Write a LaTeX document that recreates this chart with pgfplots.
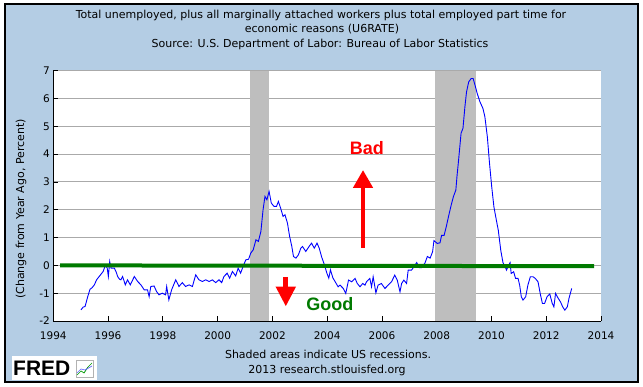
\documentclass[border=0pt]{standalone}
\usepackage{fontspec}
\setmainfont{DejaVu Sans}
\newfontfamily\arialf{Liberation Sans}
\usepackage{pgfplots}
\pgfplotsset{compat=1.18}
\usetikzlibrary{arrows.meta}
\definecolor{fredbg}{RGB}{180,205,228}
\definecolor{recess}{RGB}{190,190,190}
\definecolor{gridc}{RGB}{170,170,170}
\definecolor{goodgreen}{RGB}{0,122,0}
\begin{document}
\begin{tikzpicture}
\fill[white] (0pt,0pt) rectangle (643pt,387pt);
\filldraw[fill=fredbg, draw=black, line width=1.2pt] (5pt,5pt) rectangle (638pt,383pt);
% titles
\node[font=\fontsize{11}{12}\selectfont] at (321pt,372pt) {Total unemployed, plus all marginally attached workers plus total employed part time for};
\node[font=\fontsize{11}{12}\selectfont] at (322pt,358pt) {economic reasons (U6RATE)};
\node[font=\fontsize{11}{12}\selectfont] at (320pt,343pt) {Source: U.S. Department of Labor: Bureau of Labor Statistics};
\node[rotate=90, font=\fontsize{11}{12}\selectfont] at (21pt,178pt) {(Change from Year Ago, Percent)};
\node[font=\fontsize{11}{12}\selectfont] at (328pt,33pt) {Shaded areas indicate US recessions.};
\node[font=\fontsize{11}{12}\selectfont] at (327pt,17pt) {2013 research.stlouisfed.org};
% FRED logo
\fill[white] (12pt,7pt) rectangle (97pt,31pt);
\node[anchor=west, font=\arialf\bfseries\fontsize{21}{21}\selectfont, inner sep=0pt] at (13pt,19pt) {FRED};
\draw[gray!60, line width=0.4pt] (76pt,10pt) rectangle (93pt,27pt);
\draw[green!60!black, line width=0.7pt] (77pt,12pt) -- (81pt,16pt) -- (84pt,14pt) -- (88pt,20pt) -- (92pt,24pt);
\draw[blue!60, line width=0.7pt] (77pt,14pt) -- (81pt,18pt) -- (85pt,17pt) -- (92pt,21pt);
\begin{axis}[
  at={(53.3pt,66pt)}, anchor=south west,
  scale only axis, width=547.7pt, height=250.3pt,
  xmin=1994, xmax=2014, ymin=-2, ymax=7,
  xtick={1994,1996,...,2014}, ytick={-2,-1,...,7},
  axis lines*=left,
  axis line style={black, line width=0.8pt},
  tick align=inside, major tick length=5pt,
  tick style={black, line width=0.8pt},
  ymajorgrids, grid style={gridc, line width=0.9pt},
  axis background/.style={fill=white},
  clip=false,
  /pgf/number format/1000 sep={},
  /pgf/number format/assume math mode=true,
  tick label style={font=\fontsize{10.5}{11}\selectfont},
  xticklabel style={yshift=-7pt},
]
\fill[recess] (axis cs:2001.17,-2) rectangle (axis cs:2001.87,7);
\fill[recess] (axis cs:2007.92,-2) rectangle (axis cs:2009.42,7);
\addplot[blue, line width=0.9pt, mark=none] coordinates {
(1995.01,-1.60) (1995.09,-1.50) (1995.16,-1.48) (1995.25,-1.15) (1995.34,-0.86) (1995.42,-0.80)
(1995.50,-0.70) (1995.58,-0.52) (1995.66,-0.42) (1995.74,-0.32) (1995.82,-0.22) (1995.90,0.0)
(1995.97,-0.10) (1996.01,-0.40) (1996.06,0.14) (1996.11,-0.10) (1996.23,-0.10) (1996.30,-0.25)
(1996.35,-0.40) (1996.42,-0.50) (1996.47,-0.52) (1996.53,-0.40) (1996.63,-0.70) (1996.71,-0.52)
(1996.81,-0.70) (1996.96,-0.40) (1997.08,-0.58) (1997.20,-0.70) (1997.32,-0.88) (1997.44,-0.88)
(1997.50,-1.12) (1997.56,-0.76) (1997.68,-0.74) (1997.77,-0.94) (1997.86,-1.06) (1997.98,-1.00)
(1998.10,-1.06) (1998.14,-0.76) (1998.22,-1.24) (1998.32,-0.88) (1998.47,-0.52) (1998.59,-0.76)
(1998.71,-0.62) (1998.83,-0.76) (1998.96,-0.70) (1999.08,-0.76) (1999.20,-0.34) (1999.32,-0.52)
(1999.44,-0.58) (1999.57,-0.52) (1999.69,-0.58) (1999.81,-0.52) (1999.93,-0.62) (2000.05,-0.52)
(2000.15,-0.62) (2000.23,-0.40) (2000.35,-0.28) (2000.44,-0.46) (2000.54,-0.22) (2000.66,-0.38)
(2000.75,-0.10) (2000.84,-0.28) (2000.93,-0.04) (2001.03,0.20) (2001.13,0.22) (2001.21,0.44)
(2001.30,0.56) (2001.40,0.92) (2001.49,0.86) (2001.58,1.22) (2001.66,2.00) (2001.73,2.48)
(2001.80,2.36) (2001.88,2.66) (2001.96,2.24) (2002.06,2.12) (2002.15,2.12) (2002.22,2.30)
(2002.30,2.06) (2002.39,1.76) (2002.46,1.82) (2002.55,1.52) (2002.63,1.04) (2002.71,0.68)
(2002.77,0.32) (2002.86,0.26) (2002.95,0.38) (2003.04,0.62) (2003.10,0.68) (2003.22,0.50)
(2003.34,0.68) (2003.43,0.80) (2003.53,0.62) (2003.63,0.80) (2003.71,0.62) (2003.80,0.30)
(2003.90,0.02) (2003.99,-0.28) (2004.06,-0.46) (2004.12,-0.16) (2004.21,-0.45) (2004.30,-0.60)
(2004.40,-0.77) (2004.47,-0.71) (2004.59,-0.83) (2004.68,-1.01) (2004.78,-0.53) (2004.90,-0.59)
(2005.02,-0.47) (2005.10,-0.65) (2005.20,-0.77) (2005.30,-0.65) (2005.38,-0.71) (2005.44,-0.59)
(2005.56,-0.47) (2005.62,-0.77) (2005.68,-0.41) (2005.78,-0.99) (2005.86,-0.71) (2005.98,-0.65)
(2006.11,-0.83) (2006.23,-0.71) (2006.35,-0.59) (2006.47,-0.35) (2006.56,-0.53) (2006.66,-0.95)
(2006.72,-0.65) (2006.80,-0.53) (2006.90,-0.65) (2006.96,-0.17) (2007.08,-0.17) (2007.17,-0.05)
(2007.27,0.10) (2007.37,-0.08) (2007.45,-0.08) (2007.57,0.08) (2007.66,0.32) (2007.76,0.26)
(2007.85,0.49) (2007.90,0.89) (2008.02,0.79) (2008.12,0.81) (2008.18,1.08) (2008.27,1.08)
(2008.35,1.39) (2008.43,1.75) (2008.53,2.17) (2008.61,2.47) (2008.70,2.71) (2008.74,3.19)
(2008.80,3.79) (2008.89,4.75) (2008.96,4.93) (2009.03,5.70) (2009.09,6.24) (2009.17,6.60)
(2009.26,6.72) (2009.33,6.72) (2009.40,6.48) (2009.48,6.18) (2009.58,5.88) (2009.69,5.64)
(2009.76,5.34) (2009.85,4.62) (2009.93,3.66) (2010.01,2.82) (2010.09,2.10) (2010.18,1.62)
(2010.25,1.26) (2010.34,0.54) (2010.42,0.10) (2010.50,-0.05) (2010.55,-0.17) (2010.60,-0.05)
(2010.68,0.10) (2010.72,-0.29) (2010.81,-0.23) (2010.88,-0.47) (2010.97,-0.47) (2011.03,-0.71)
(2011.09,-1.13) (2011.15,-1.25) (2011.25,-1.13) (2011.33,-0.71) (2011.42,-0.41) (2011.52,-0.41)
(2011.60,-0.47) (2011.70,-0.59) (2011.78,-1.01) (2011.86,-1.37) (2011.94,-1.37) (2012.03,-1.13)
(2012.13,-1.03) (2012.22,-1.37) (2012.28,-1.49) (2012.34,-1.01) (2012.44,-1.19) (2012.52,-1.31)
(2012.60,-1.49) (2012.68,-1.61) (2012.77,-1.49) (2012.83,-1.19) (2012.93,-0.83)
};
\addplot[goodgreen, line width=4pt, mark=none] coordinates {(1994.25,0.0) (2013.75,-0.03)};
\draw[red, line width=4.5pt, -{Triangle[width=19pt,length=18pt]}] (axis cs:2005.31,0.63) -- (axis cs:2005.31,3.43);
\draw[red, line width=5pt, -{Triangle[width=19pt,length=20pt]}] (axis cs:2002.49,-0.41) -- (axis cs:2002.49,-1.48);
\node[red, font=\arialf\bfseries\fontsize{18}{18}\selectfont] at (axis cs:2005.45,4.23) {Bad};
\node[goodgreen, font=\arialf\bfseries\fontsize{18}{18}\selectfont] at (axis cs:2004.1,-1.39) {Good};
\end{axis}
\end{tikzpicture}
\end{document}
